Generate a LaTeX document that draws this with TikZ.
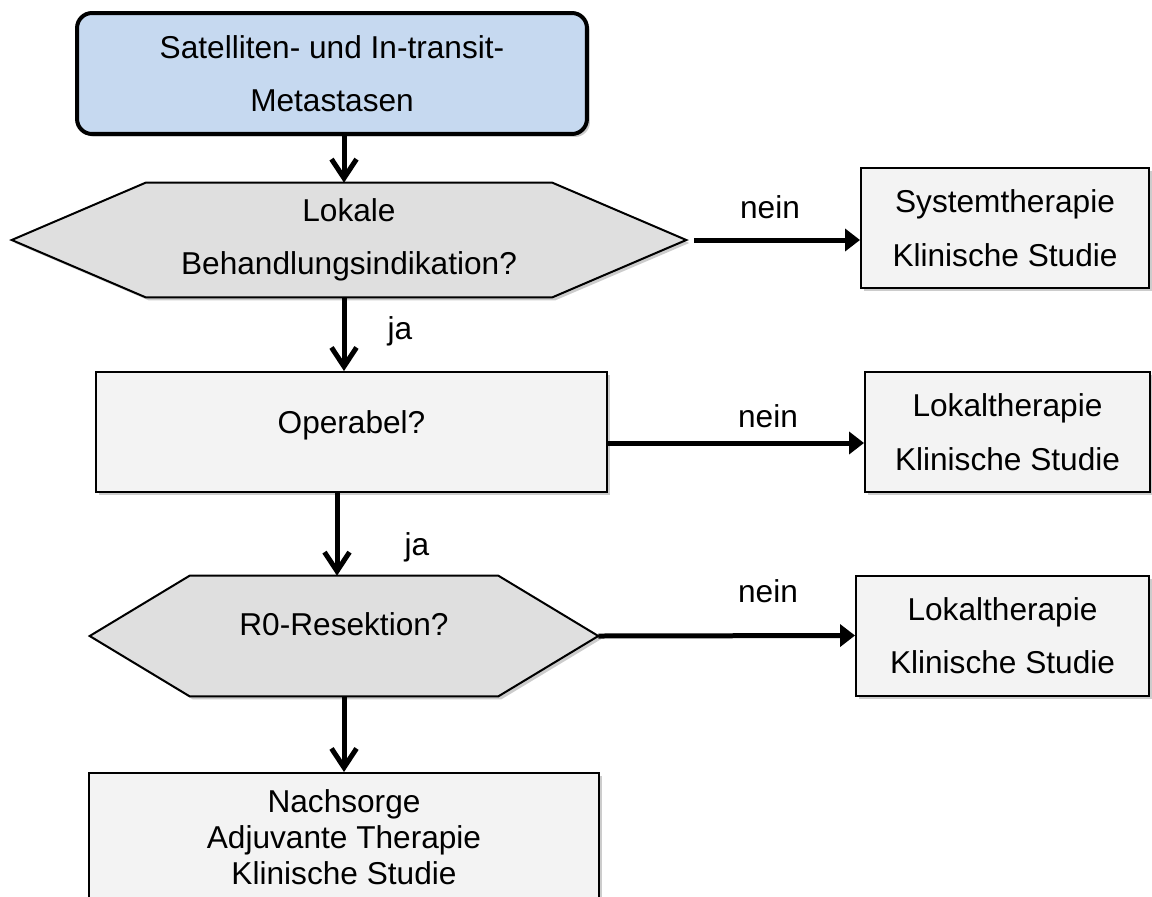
\documentclass[tikz,border=0pt]{standalone}
\usepackage{fontspec}
\setmainfont{Liberation Sans}
\usetikzlibrary{arrows.meta,shadows,backgrounds}

\definecolor{startblau}{RGB}{198,217,240}
\definecolor{frageGrau}{RGB}{223,223,223}
\definecolor{boxGrau}{RGB}{243,243,243}

\tikzset{
  schatten/.style={drop shadow={shadow xshift=0.06cm,shadow yshift=-0.06cm,fill=black,opacity=0.2}},
  kasten/.style={rectangle,draw,line width=0.04cm,fill=boxGrau,schatten,align=center,
    minimum height=2.4cm,font=\fontsize{18}{30.5}\selectfont},
  frage/.style={rectangle,align=center,font=\fontsize{18}{30.5}\selectfont},
  hexfl/.style={draw,line width=0.04cm,fill=frageGrau,schatten},
  vpfeil/.style={line width=0.1cm,-{Straight Barb[length=0.38cm,width=0.5cm]}},
  hpfeil/.style={line width=0.1cm,-{Triangle[length=0.3cm,width=0.44cm]}},
  lbl/.style={inner sep=0pt,anchor=base,font=\fontsize{18}{22}\selectfont}
}

\begin{document}
\begin{tikzpicture}[x=0.02cm,y=-0.02cm]

      \useasboundingbox (0,0) rectangle (1152,896);

      % start
      \node[rectangle,draw,line width=0.08cm,rounded corners=0.3cm,fill=startblau,schatten,
        align=center,minimum width=10.2cm,minimum height=2.42cm,
        font=\fontsize{18}{30.5}\selectfont] (start) at (332,73.5)
        {Satelliten- und In-transit-\\Metastasen};

      % fragen
      \begin{scope}[every node/.style={frage}]
        \node[minimum width=13.48cm,minimum height=2.28cm] (lokal) at (349,240) {Lokale\\Behandlungsindikation?};
        \node[minimum width=10.16cm,minimum height=2.4cm,text depth=0.49cm] (r0) at (344,636) {R0-Resektion?};
      \end{scope}

      % kaesten
      \begin{scope}[every node/.style={kasten}]
        \node[minimum width=5.76cm] (sys)  at (1005,228)   {Systemtherapie\\Klinische Studie};
        \node[minimum width=10.22cm,text depth=0.41cm] (oper) at (351.5,432) {Operabel?};
        \node[minimum width=5.7cm]  (lok1) at (1007.5,432) {Lokaltherapie\\Klinische Studie};
        \node[minimum width=5.86cm] (lok2) at (1002.5,635.5) {Lokaltherapie\\Klinische Studie};
        \node[minimum width=10.2cm,minimum height=2.58cm,font=\fontsize{18}{20.5}\selectfont]
          (nach) at (344,837.5) {Nachsorge\\Adjuvante Therapie\\Klinische Studie};
      \end{scope}

      \begin{scope}[on background layer]
        \draw[hexfl] (lokal.west) -- ([xshift=2.68cm]lokal.north west) -- ([xshift=-2.68cm]lokal.north east)
          -- (lokal.east) -- ([xshift=-2.68cm]lokal.south east) -- ([xshift=2.68cm]lokal.south west) -- cycle;
        \draw[hexfl] (r0.west) -- ([xshift=2cm]r0.north west) -- ([xshift=-2cm]r0.north east)
          -- (r0.east) -- ([xshift=-2cm]r0.south east) -- ([xshift=2cm]r0.south west) -- cycle;
      \end{scope}

      % ja
      \begin{scope}[every path/.style={vpfeil}]
        \draw (start.south -| r0.north) -- (lokal.north -| r0.north);
        \draw (lokal.south -| r0.north) -- (oper.north -| r0.north);
        \draw ([xshift=-0.14cm]oper.south -| r0.north) -- ([xshift=-0.14cm]r0.north);
        \draw (r0.south) -- (nach.north);
      \end{scope}

      % nein
      \begin{scope}[every path/.style={hpfeil}]
        \draw[shorten <=0.16cm] (lokal.east) -- (lokal.east -| sys.west);
        \draw ([yshift=-0.22cm]oper.east) -- ([yshift=-0.22cm]oper.east -| lok1.west);
        \draw (r0.east) -- (lok2.west);
      \end{scope}

      \node[lbl] (nein1) at (770,218) {nein};
      \node[lbl] (nein2) at (768,427) {nein};
      \node[lbl] (nein3) at (768,602) {nein};
      \node[lbl] (ja1)   at (400,339) {ja};
      \node[lbl] (ja2)   at (417,555) {ja};

    \end{tikzpicture}
\end{document}
